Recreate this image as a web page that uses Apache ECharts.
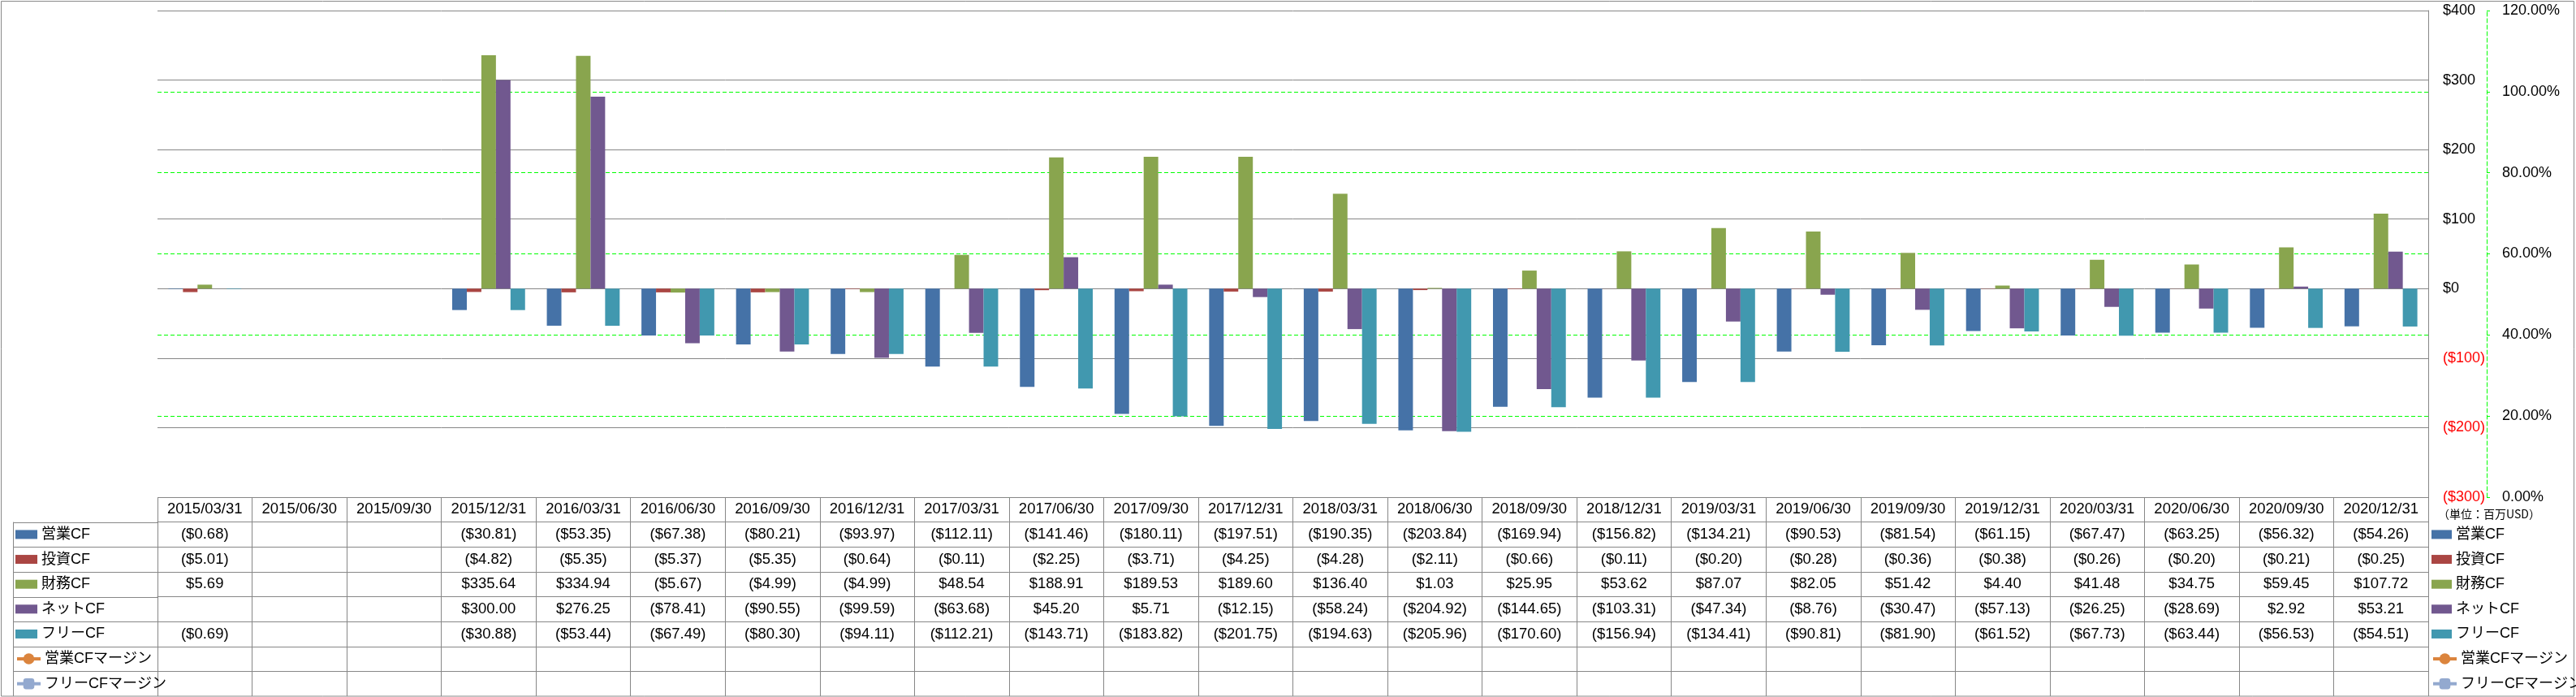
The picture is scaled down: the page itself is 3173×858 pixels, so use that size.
<!DOCTYPE html>
<html>
<head>
<meta charset="utf-8">
<script src="https://cdn.jsdelivr.net/npm/echarts@6/dist/echarts.min.js"></script>
<style>
html,body{margin:0;padding:0;background:#fff;}
#chart{width:3173px;height:858px;}
</style>
</head>
<body>
<div id="chart"></div>
<script>
const categories = ['2015/03/31','2015/06/30','2015/09/30','2015/12/31','2016/03/31','2016/06/30','2016/09/30','2016/12/31','2017/03/31','2017/06/30','2017/09/30','2017/12/31','2018/03/31','2018/06/30','2018/09/30','2018/12/31','2019/03/31','2019/06/30','2019/09/30','2019/12/31','2020/03/31','2020/06/30','2020/09/30','2020/12/31'];
const seriesNames = ['営業CF','投資CF','財務CF','ネットCF','フリーCF','営業CFマージン','フリーCFマージン'];
const opCF = [-0.68,null,null,-30.81,-53.35,-67.38,-80.21,-93.97,-112.11,-141.46,-180.11,-197.51,-190.35,-203.84,-169.94,-156.82,-134.21,-90.53,-81.54,-61.15,-67.47,-63.25,-56.32,-54.26];
const invCF = [-5.01,null,null,-4.82,-5.35,-5.37,-5.35,-0.64,-0.11,-2.25,-3.71,-4.25,-4.28,-2.11,-0.66,-0.11,-0.20,-0.28,-0.36,-0.38,-0.26,-0.20,-0.21,-0.25];
const finCF = [5.69,null,null,335.64,334.94,-5.67,-4.99,-4.99,48.54,188.91,189.53,189.60,136.40,1.03,25.95,53.62,87.07,82.05,51.42,4.40,41.48,34.75,59.45,107.72];
const netCF = [null,null,null,300.00,276.25,-78.41,-90.55,-99.59,-63.68,45.20,5.71,-12.15,-58.24,-204.92,-144.65,-103.31,-47.34,-8.76,-30.47,-57.13,-26.25,-28.69,2.92,53.21];
const freeCF = [-0.69,null,null,-30.88,-53.44,-67.49,-80.30,-94.11,-112.21,-143.71,-183.82,-201.75,-194.63,-205.96,-170.60,-156.94,-134.41,-90.81,-81.90,-61.52,-67.73,-63.44,-56.53,-54.51];
const opMargin = [null,null,null,null,null,null,null,null,null,null,null,null,null,null,null,null,null,null,null,null,null,null,null,null];
const freeMargin = [null,null,null,null,null,null,null,null,null,null,null,null,null,null,null,null,null,null,null,null,null,null,null,null];
const unitText = '（単位：百万USD）';

const colors = ['#4572A7','#AA4643','#89A54E','#71588F','#4198AF','#DB843D','#93A9CF'];
const FONT = '"Liberation Sans","Noto Sans CJK JP",sans-serif';
const GRAY = '#878787';
const gridLeft = 194, gridRight = 2991, gridTop = 13, gridBottom = 612, tableBottom = 857, chartW = 3173, chartH = 858;
const rowH = (tableBottom - gridBottom) / 8;
const rows = [opCF, invCF, finCF, netCF, freeCF, opMargin, freeMargin];

function fmt(v) {
  if (v === null || v === undefined) return '';
  const s = Math.abs(v).toFixed(2);
  return v < 0 ? '($' + s + ')' : '$' + s;
}

const labelBase = {interval: 0, margin: rowH / 2, verticalAlign: 'middle', fontSize: 18.5, color: '#000', fontFamily: FONT};

const xAxis = [{
  type: 'category', data: categories, gridIndex: 0, position: 'bottom',
  axisLine: {show: false, onZero: false},
  axisTick: {show: true, interval: 0, length: tableBottom - gridBottom, lineStyle: {color: GRAY}},
  axisLabel: Object.assign({}, labelBase),
  splitLine: {show: false}
}];
rows.forEach((r, i) => {
  xAxis.push({
    type: 'category', data: categories, gridIndex: 0, position: 'bottom', offset: rowH * (i + 1),
    axisLine: {show: true, onZero: false, lineStyle: {color: GRAY}},
    axisTick: {show: false},
    axisLabel: Object.assign({}, labelBase, {formatter: (v, idx) => fmt(r[idx])}),
    splitLine: {show: false}
  });
});

const yAxis = [{
  type: 'value', min: -300, max: 400, interval: 100, position: 'right', z: 1,
  axisLine: {show: true, lineStyle: {color: GRAY}},
  axisTick: {show: false},
  axisLabel: {margin: 18, fontSize: 18, fontFamily: FONT,
    color: v => Number(v) < 0 ? '#FF0000' : '#000',
    formatter: v => v < 0 ? '($' + (-v) + ')' : '$' + v},
  splitLine: {show: true, lineStyle: {color: GRAY, width: 1}}
}, {
  type: 'value', min: 0, max: 1.2, interval: 0.2, position: 'right', offset: 72,
  axisLine: {show: true, lineStyle: {color: '#00FF00', type: [5, 3]}},
  axisTick: {show: true, length: 4, lineStyle: {color: '#00FF00'}},
  axisLabel: {margin: 19, fontSize: 18, fontFamily: FONT, color: '#000',
    formatter: v => (v * 100).toFixed(2) + '%'},
  splitLine: {show: true, lineStyle: {color: '#00FF00', width: 1, type: [5, 3]}}
}];

const series = [];
for (let i = 0; i < 5; i++) {
  series.push({
    name: seriesNames[i], type: 'bar', xAxisIndex: 0, yAxisIndex: 0,
    data: rows[i], barGap: '0%', barCategoryGap: '23%',
    itemStyle: {color: colors[i]}
  });
}
series.push({name: seriesNames[5], type: 'line', xAxisIndex: 0, yAxisIndex: 1, data: opMargin,
  symbol: 'circle', symbolSize: 12, itemStyle: {color: colors[5], borderWidth: 0}, lineStyle: {color: colors[5], width: 4}});
series.push({name: seriesNames[6], type: 'line', xAxisIndex: 0, yAxisIndex: 1, data: freeMargin,
  symbol: 'roundRect', symbolSize: 12, itemStyle: {color: colors[6], borderWidth: 0}, lineStyle: {color: colors[6], width: 4}});

const legends = [];
seriesNames.forEach((name, i) => {
  const cy = gridBottom + rowH * (i + 1) + rowH / 2;
  const isBar = i < 5;
  [[19, 27], [2995, 25]].forEach(([lx, bw]) => {
    const lg = {
      data: [name], left: lx, top: cy - 10, padding: 0, selectedMode: false, orient: 'horizontal',
      itemWidth: isBar ? bw : 29, itemHeight: isBar ? 11 : 17,
      textStyle: {fontSize: 18, color: '#000', fontFamily: FONT, lineHeight: 20}
    };
    if (isBar) lg.icon = 'rect';
    else { lg.lineStyle = {width: 4}; lg.itemStyle = {borderWidth: 0}; }
    legends.push(lg);
  });
});

const graphic = [
  {type: 'rect', silent: true, shape: {x: 1.5, y: 1.5, width: chartW - 4, height: tableBottom - 1.5}, style: {fill: null, stroke: '#898989', lineWidth: 1}},
  {type: 'line', silent: true, shape: {x1: 16.5, y1: gridBottom + rowH, x2: 16.5, y2: tableBottom}, style: {stroke: GRAY, lineWidth: 1}},
  {type: 'text', silent: true, left: 3003, top: 626, style: {text: unitText, fill: '#000', fontSize: 14, fontFamily: '"Noto Sans CJK JP",sans-serif'}}
];
for (let i = 1; i <= 7; i++) {
  const y = Math.round(gridBottom + rowH * i) + 0.5;
  graphic.push({type: 'line', silent: true, shape: {x1: 16.5, y1: y, x2: gridLeft, y2: y}, style: {stroke: GRAY, lineWidth: 1}});
}

const chart = echarts.init(document.getElementById('chart'), null, {renderer: 'canvas'});
chart.setOption({
  animation: false,
  backgroundColor: '#fff',
  color: colors,
  textStyle: {fontFamily: FONT},
  grid: {left: gridLeft, right: chartW - gridRight, top: gridTop, bottom: chartH - gridBottom, containLabel: false, outerBoundsMode: 'none'},
  legend: legends,
  xAxis: xAxis,
  yAxis: yAxis,
  series: series,
  graphic: graphic
});
</script>
</body>
</html>
